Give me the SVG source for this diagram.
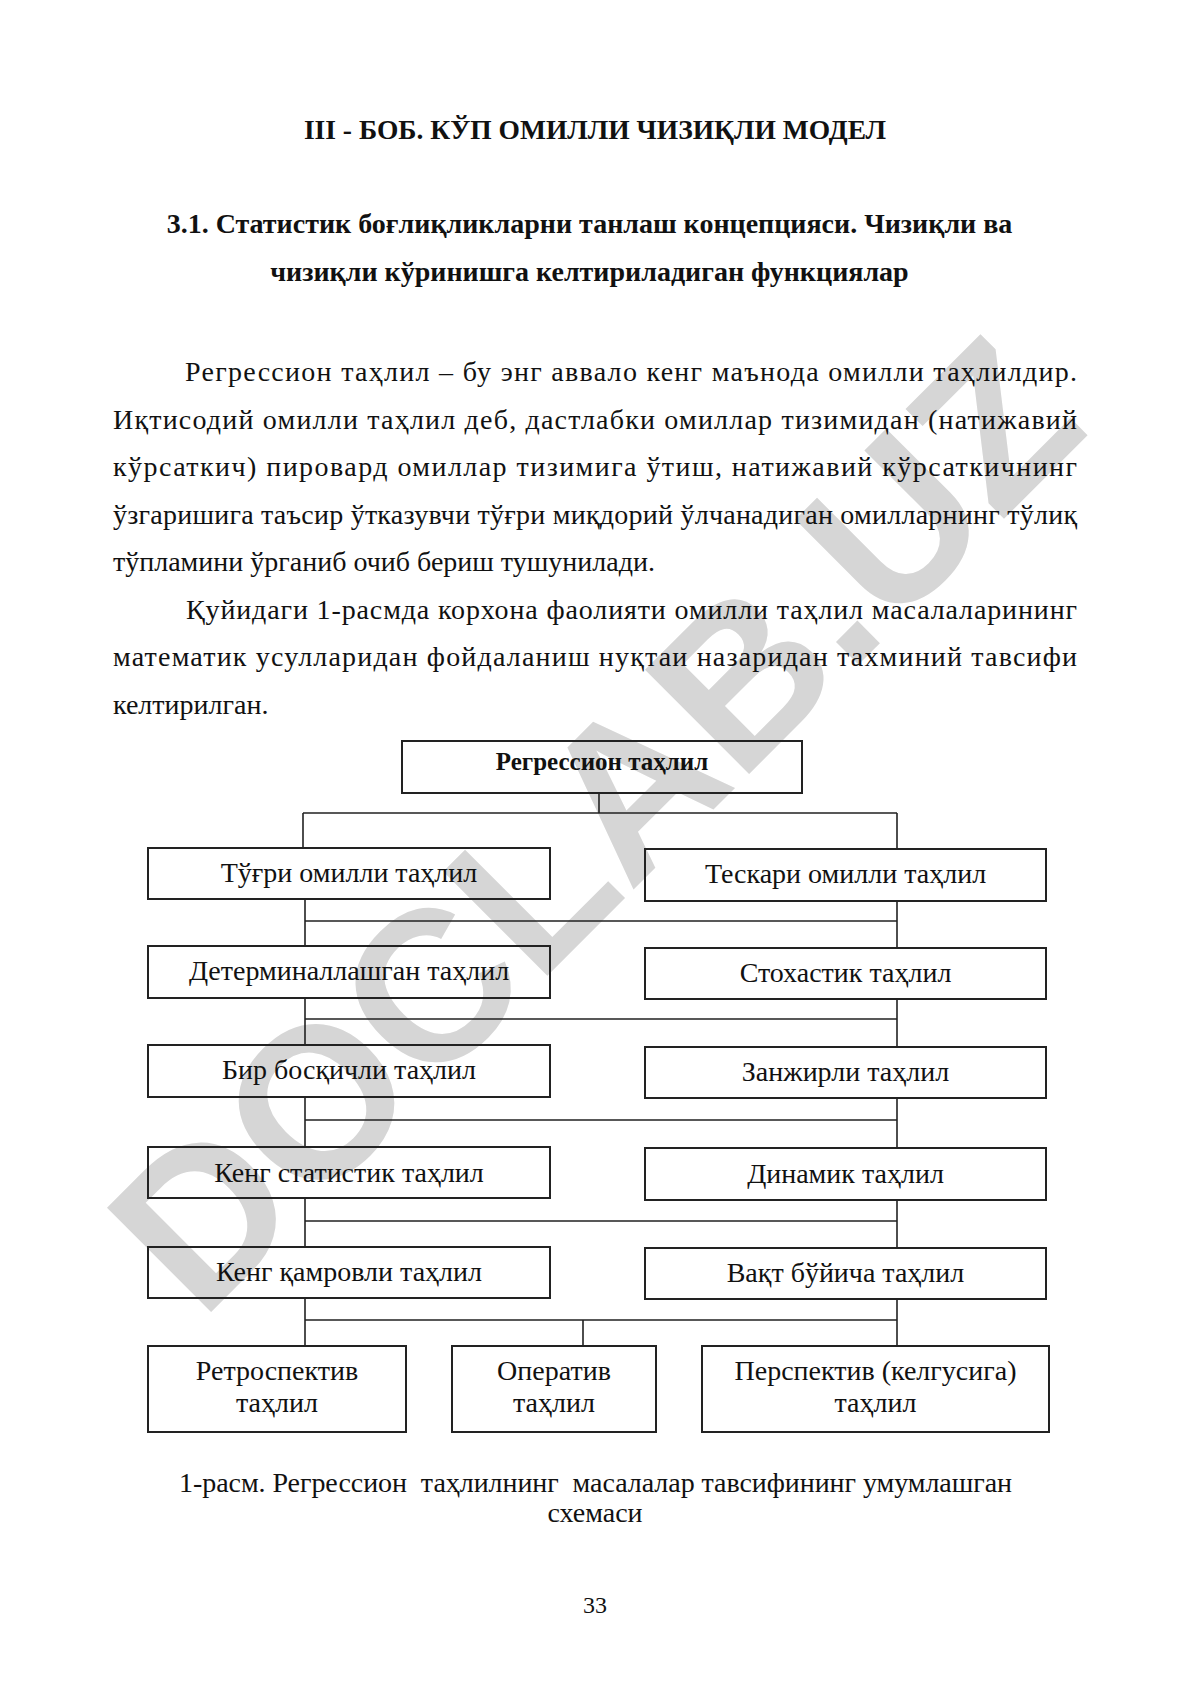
<svg xmlns="http://www.w3.org/2000/svg" width="1190" height="1684" viewBox="0 0 1190 1684">
<style>
text{font-family:"Liberation Serif","Times New Roman",serif;fill:#111}
.b{font-weight:bold}
.body{font-size:28px}
.lbl{font-size:28px;text-anchor:middle}
.box{fill:none;stroke:#222;stroke-width:2}
.ln{stroke:#222;stroke-width:1.6;fill:none}
.wm{font-family:"Liberation Sans",Arial,sans-serif;font-weight:bold;font-size:214px;fill:#d6d6d6;text-anchor:middle}
</style>
<rect width="1190" height="1684" fill="#fff"/>
<text class="wm" transform="translate(592,822) rotate(-45)" x="0" y="77">DOCLAB.UZ</text>

<text class="b" x="595" y="139" font-size="27.5" text-anchor="middle">III - БОБ. КЎП ОМИЛЛИ ЧИЗИҚЛИ МОДЕЛ</text>
<text class="b" x="589.5" y="233" font-size="28" text-anchor="middle">3.1. Статистик боғлиқликларни танлаш концепцияси. Чизиқли ва</text>
<text class="b" x="589.5" y="281" font-size="28" text-anchor="middle">чизиқли кўринишга келтириладиган функциялар</text>

<g class="body">
<text class="body" x="185" y="381" textLength="892" lengthAdjust="spacing">Регрессион таҳлил – бу энг аввало кенг маънода омилли таҳлилдир.</text>
<text class="body" x="113" y="428.5" textLength="964" lengthAdjust="spacing">Иқтисодий омилли таҳлил деб, дастлабки омиллар тизимидан (натижавий</text>
<text class="body" x="113" y="476" textLength="964" lengthAdjust="spacing">кўрсаткич) пировард омиллар тизимига ўтиш, натижавий кўрсаткичнинг</text>
<text class="body" x="113" y="523.5" textLength="964" lengthAdjust="spacing">ўзгаришига таъсир ўтказувчи тўғри миқдорий ўлчанадиган омилларнинг тўлиқ</text>
<text class="body" x="113" y="571">тўпламини ўрганиб очиб бериш тушунилади.</text>
<text class="body" x="186" y="618.5" textLength="891" lengthAdjust="spacing">Қуйидаги 1-расмда корхона фаолияти омилли таҳлил масалаларининг</text>
<text class="body" x="113" y="666" textLength="964" lengthAdjust="spacing">математик усулларидан фойдаланиш нуқтаи назаридан тахминий тавсифи</text>
<text class="body" x="113" y="713.5">келтирилган.</text>
</g>

<g id="connectors">
<path class="ln" d="M599 793V813M303 813H897M303 813V848M897 813V849"/>
<path class="ln" d="M305 899V946M305 921H897M897 901V948"/>
<path class="ln" d="M305 998V1045M305 1019H897M897 999V1047"/>
<path class="ln" d="M305 1097V1147M305 1120H897M897 1098V1148"/>
<path class="ln" d="M305 1198V1247M305 1221H897M897 1200V1248"/>
<path class="ln" d="M305 1298V1346M305 1320H897M583 1320V1346M897 1299V1346"/>
</g>

<g id="n-root"><rect class="box" x="402" y="741" width="400" height="52"/><text class="b" x="602" y="770" font-size="25" text-anchor="middle">Регрессион таҳлил</text></g>

<g id="n-direct"><rect class="box" x="148" y="848" width="402" height="51"/><text class="lbl" x="349" y="882">Тўғри омилли таҳлил</text></g>
<g id="n-inverse"><rect class="box" x="645" y="849" width="401" height="52"/><text class="lbl" x="845.5" y="883">Тескари омилли таҳлил</text></g>

<g id="n-determ"><rect class="box" x="148" y="946" width="402" height="52"/><text class="lbl" x="349" y="980">Детерминаллашган таҳлил</text></g>
<g id="n-stoch"><rect class="box" x="645" y="948" width="401" height="51"/><text class="lbl" x="845.5" y="982">Стохастик таҳлил</text></g>

<g id="n-onestep"><rect class="box" x="148" y="1045" width="402" height="52"/><text class="lbl" x="349" y="1079">Бир босқичли таҳлил</text></g>
<g id="n-chain"><rect class="box" x="645" y="1047" width="401" height="51"/><text class="lbl" x="845.5" y="1081">Занжирли таҳлил</text></g>

<g id="n-widestat"><rect class="box" x="148" y="1147" width="402" height="51"/><text class="lbl" x="349" y="1182">Кенг статистик таҳлил</text></g>
<g id="n-dynamic"><rect class="box" x="645" y="1148" width="401" height="52"/><text class="lbl" x="845.5" y="1183">Динамик таҳлил</text></g>

<g id="n-wide"><rect class="box" x="148" y="1247" width="402" height="51"/><text class="lbl" x="349" y="1281">Кенг қамровли таҳлил</text></g>
<g id="n-time"><rect class="box" x="645" y="1248" width="401" height="51"/><text class="lbl" x="845.5" y="1282">Вақт бўйича таҳлил</text></g>

<g id="n-retro"><rect class="box" x="148" y="1346" width="258" height="86"/><text class="lbl" x="277" y="1380">Ретроспектив</text><text class="lbl" x="277" y="1412">таҳлил</text></g>
<g id="n-oper"><rect class="box" x="452" y="1346" width="204" height="86"/><text class="lbl" x="554" y="1380">Оператив</text><text class="lbl" x="554" y="1412">таҳлил</text></g>
<g id="n-persp"><rect class="box" x="702" y="1346" width="347" height="86"/><text class="lbl" x="875.5" y="1380">Перспектив (келгусига)</text><text class="lbl" x="875.5" y="1412">таҳлил</text></g>

<text x="179" y="1492" font-size="28" xml:space="preserve" textLength="833" lengthAdjust="spacing">1-расм. Регрессион  таҳлилнинг  масалалар тавсифининг умумлашган</text>
<text x="595" y="1522" font-size="28" text-anchor="middle">схемаси</text>

<text x="595" y="1613" font-size="24" text-anchor="middle">33</text>
</svg>
